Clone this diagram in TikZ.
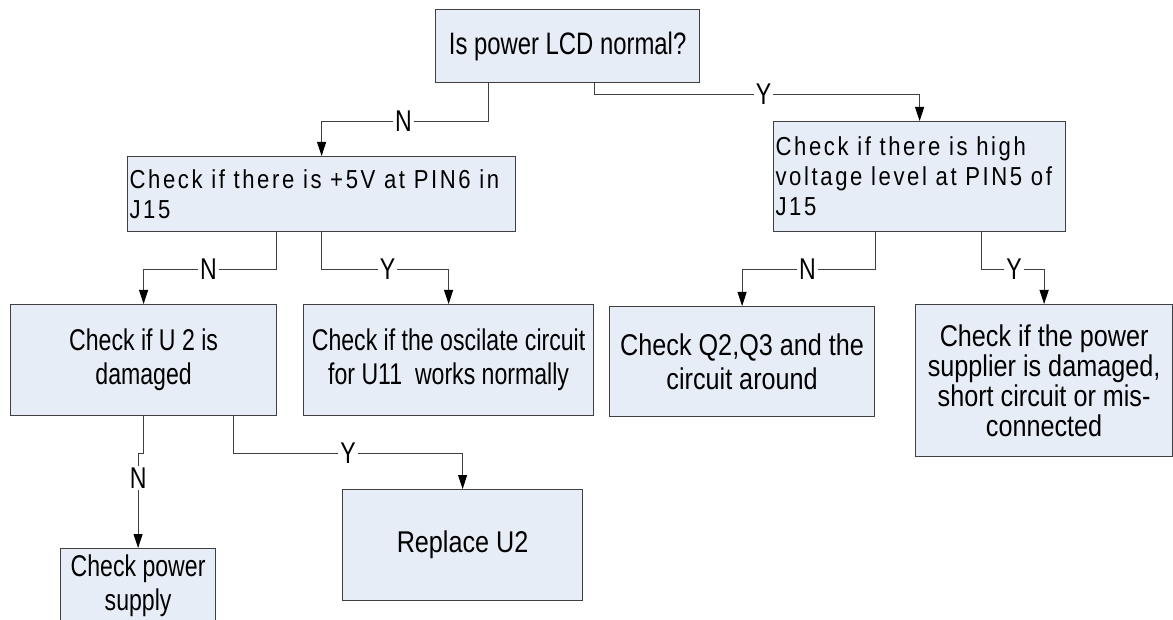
\documentclass[tikz,border=0pt]{standalone}
\usepackage{fontspec}
\usepackage{tikz}
\usetikzlibrary{arrows.meta,positioning}
\setmainfont{Liberation Sans}
\newfontfamily\condfont[FakeStretch=0.77]{Liberation Sans}
\newfontfamily\normfont[FakeStretch=0.84]{Liberation Sans}
\newfontfamily\spacedfont[FakeStretch=0.85,LetterSpace=10]{Liberation Sans}
\definecolor{boxfill}{RGB}{231,237,247}
\definecolor{linegray}{RGB}{64,64,64}

\begin{document}
\begin{tikzpicture}[
    x=0.5pt, y=-0.5pt,
    block/.style={draw=linegray, line width=0.6pt, fill=boxfill, anchor=north west, inner xsep=2pt, inner ysep=0pt, align=center, font=\condfont\fontsize{15}{17}\selectfont},
    wideblock/.style={block, inner xsep=1pt, align=left, font=\spacedfont\fontsize{13}{15}\selectfont},
    arrow/.style={-{Triangle[length=7pt,width=4.5pt,color=black]}, linegray, line width=0.5pt},
    lbl/.style={fill=white, inner sep=1pt, text=black, font=\condfont\fontsize{15}{17}\selectfont}
]
\useasboundingbox (0,0) rectangle (1173,620);
\clip (0,0) rectangle (1173,620);
\fill[white] (0,0) rectangle (1173,620);
\node[block, minimum width=132pt, minimum height=36.5pt, font=\condfont\fontsize{15.5}{17}\selectfont] (power) at (435,9) {Is power LCD normal?};
\node[wideblock, text width=192pt, minimum height=37.5pt] (fivev) at (127,156) {Check if there is +5V at PIN6 in\\J15};
\node[wideblock, text width=144pt, minimum height=55pt] (highv) at (773,121) {Check if there is high\\voltage level at PIN5 of\\J15};
\node[block, minimum width=133pt, minimum height=55.5pt] (utwo) at (10,304) {Check if U 2 is\\damaged};
\node[block, minimum width=145pt, minimum height=55.5pt] (osc) at (303,304) {Check if the oscilate circuit\\for U11~ works normally};
\node[block, minimum width=132.5pt, minimum height=55pt, font=\normfont\fontsize{15}{17}\selectfont] (qcheck) at (609,306) {Check Q2,Q3 and the\\circuit around};
\node[block, minimum width=128.5pt, minimum height=76pt, font=\normfont\fontsize{15}{15}\selectfont] (supplier) at (915,304) {Check if the power\\supplier is damaged,\\short circuit or mis-\\connected};
\node[block, minimum width=77.5pt, minimum height=37pt] (supply) at (60,548) {Check power\\supply};
\node[block, minimum width=120pt, minimum height=55.5pt, font=\normfont\fontsize{15}{17}\selectfont] (replace) at (342,489) {Replace U2};
\draw[arrow] ([xshift=-39.5pt]power.south) -- ++(0,38) -| node[lbl, pos=0.255] {N} (fivev.north);
\draw[arrow] ([xshift=13.5pt]power.south) -- ++(0,11) -| node[lbl, pos=0.26] {Y} (highv.north);
\draw[arrow] ([xshift=-22.5pt]fivev.south) -- ++(0,37) -| node[lbl, pos=0.256] {N} (utwo.north);
\draw[arrow] (fivev.south) -- ++(0,37) -| node[lbl, pos=0.26] {Y} (osc.north);
\draw[arrow] ([xshift=-22pt]highv.south) -- ++(0,37) -| node[lbl, pos=0.255] {N} (qcheck.north);
\draw[arrow] ([xshift=31pt]highv.south) -- ++(0,37) -| node[lbl, pos=0.26] {Y} (supplier.north);
\draw[arrow] (utwo.south) -- ++(0,37) -| node[lbl, pos=0.63] {N} (supply.north);
\draw[arrow] ([xshift=45pt]utwo.south) -- ++(0,37) -| node[lbl, pos=0.25] {Y} (replace.north);
\end{tikzpicture}
\end{document}
